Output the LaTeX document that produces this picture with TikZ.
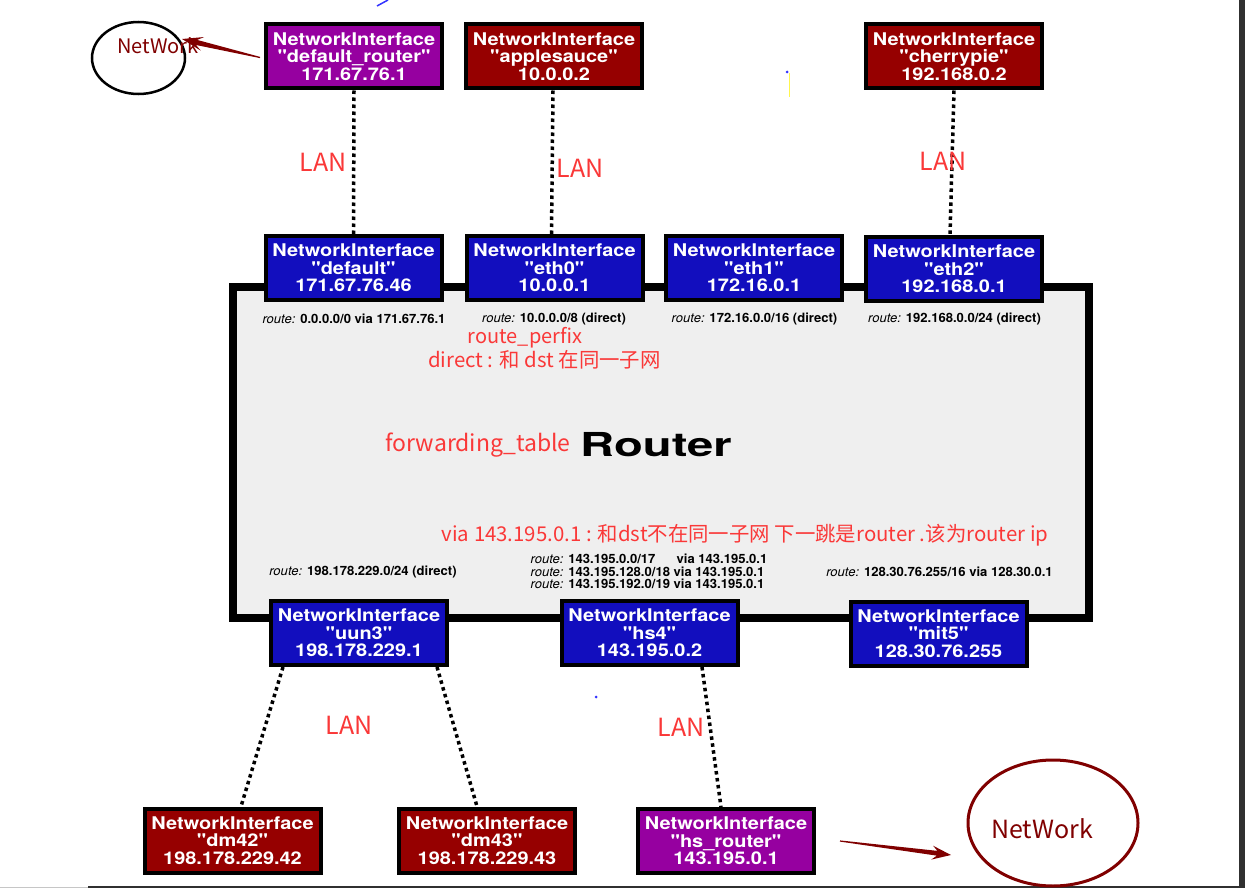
\documentclass[tikz,border=0pt]{standalone}
\usepackage{fontspec}
\usetikzlibrary{arrows.meta,shapes.geometric,calc}
\newfontfamily\boxfont[FakeStretch=1.14]{TeX Gyre Heros}
\newfontfamily\routefont[FakeStretch=1.02]{TeX Gyre Heros}
\newfontfamily\routerfont[FakeStretch=1.43]{TeX Gyre Heros}
\newfontfamily\cjk{Noto Sans CJK SC}
\definecolor{ifblue}{RGB}{18,14,190}
\definecolor{ifred}{RGB}{150,0,0}
\definecolor{ifpurple}{RGB}{150,0,160}
\definecolor{routerbg}{RGB}{239,239,239}
\definecolor{annot}{RGB}{250,56,56}
\definecolor{netred}{RGB}{128,0,0}
\definecolor{edgegray}{RGB}{48,48,48}
\begin{document}
\begin{tikzpicture}[x=1pt,y=-1pt,
  iface/.style={draw=black, line width=4pt, minimum width=176pt, minimum height=64pt,
    inner sep=0pt, align=center, text=white,
    font=\boxfont\bfseries\fontsize{17.5}{17.5}\selectfont},
  blueif/.style={iface, fill=ifblue},
  redif/.style={iface, fill=ifred},
  purpif/.style={iface, fill=ifpurple},
  routetxt/.style={inner sep=0pt, font=\routefont\fontsize{12.8}{11}\selectfont},
  annotxt/.style={inner sep=0pt, text=annot, font=\cjk\fontsize{20.4}{24}\selectfont},
  lantxt/.style={inner sep=0pt, text=annot, font=\cjk\fontsize{25}{28}\selectfont},
  conn/.style={line width=3.5pt, dash pattern=on 3.5pt off 3.5pt},
  nettxt/.style={inner sep=0pt, text=netred, font=\cjk\fontsize{20}{24}\selectfont}
]
\useasboundingbox (0,0) rectangle (1245,888);
\fill[white] (0,0) rectangle (1245,888);
% screenshot edges
\fill[edgegray] (1239,0) rectangle (1245,888);
\fill[edgegray] (88,885.5) rectangle (1239,888);
\fill[gray!45] (0,886.5) rectangle (88,888);
% stray marks
\draw[blue!80, line width=1.5pt] (377,6) -- (388,0);
\draw[yellow!70, line width=0.6pt] (789,73) -- (789,97);
\fill[blue!80] (787,72) circle (1.5pt);
\fill[blue!80] (596,697) circle (1.5pt);

% router
\node[draw=black, line width=8pt, fill=routerbg, minimum width=856pt, minimum height=331pt, inner sep=0pt] (router) at (661,452.5) {};
\node[inner sep=0pt, font=\routerfont\bfseries\fontsize{33}{36}\selectfont] (rlabel) at (656,445) {Router};

% interfaces
\node[purpif] (dr) at (354,56.5) {NetworkInterface\\"default\_router"\\171.67.76.1};
\node[redif] (apple) at (554,56.5) {NetworkInterface\\"applesauce"\\10.0.0.2};
\node[redif] (cherry) at (954,56.5) {NetworkInterface\\"cherrypie"\\192.168.0.2};

\node[blueif] (def) at (353.5,268) {NetworkInterface\\"default"\\171.67.76.46};
\node[blueif] (eth0) at (554.5,268) {NetworkInterface\\"eth0"\\10.0.0.1};
\node[blueif] (eth1) at (754,268) {NetworkInterface\\"eth1"\\172.16.0.1};
\node[blueif] (eth2) at (954,269) {NetworkInterface\\"eth2"\\192.168.0.1};

\node[blueif] (uun3) at (359,633) {NetworkInterface\\"uun3"\\198.178.229.1};
\node[blueif] (hs4) at (649.5,633) {NetworkInterface\\"hs4"\\143.195.0.2};
\node[blueif] (mit5) at (938.5,633.5) {NetworkInterface\\"mit5"\\128.30.76.255};

\node[redif] (dm42) at (232.5,840.5) {NetworkInterface\\"dm42"\\198.178.229.42};
\node[redif] (dm43) at (487,840.5) {NetworkInterface\\"dm43"\\198.178.229.43};
\node[purpif] (hsr) at (726,841) {NetworkInterface\\"hs\_router"\\143.195.0.1};

% routes
\node[routetxt] (r1) at (354,319) {{\itshape route:} \bfseries 0.0.0.0/0 via 171.67.76.1};
\node[routetxt] (r2) at (554,319) {{\itshape route:} \bfseries 10.0.0.0/8 (direct)};
\node[routetxt] (r3) at (754.5,319) {{\itshape route:} \bfseries 172.16.0.0/16 (direct)};
\node[routetxt] (r4) at (954.5,319) {{\itshape route:} \bfseries 192.168.0.0/24 (direct)};
\node[routetxt] (r5) at (363,572) {{\itshape route:} \bfseries 198.178.229.0/24 (direct)};
\node[routetxt] (r6) at (649,573) {\begin{tabular}{@{}l@{ }l@{ }l@{}}
\itshape route: & \bfseries 143.195.0.0/17 & \bfseries \hspace{3pt}via 143.195.0.1\\
\itshape route: & \bfseries 143.195.128.0/18 & \bfseries via 143.195.0.1\\
\itshape route: & \bfseries 143.195.192.0/19 & \bfseries via 143.195.0.1
\end{tabular}};
\node[routetxt] (r7) at (939.5,572) {{\itshape route:} \bfseries 128.30.76.255/16 via 128.30.0.1};

% annotations
\node[annotxt, font=\cjk\fontsize{20}{24}\selectfont] (a1) at (525,338) {route\_perfix};
\node[annotxt] (a2) at (544.5,360) {direct : 和 dst 在同一子网};
\node[annotxt, font=\cjk\fontsize{23}{26}\selectfont] (a3) at (478,445) {forwarding\_table};
\node[annotxt] (a4) at (745,535) {via 143.195.0.1 : 和dst不在同一子网 下一跳是router .该为router ip};

% connectors
\draw[conn] (dr.south) -- (def.north);
\draw[conn] ([xshift=-1pt]apple.south) -- ([xshift=-3pt]eth0.north);
\draw[conn] (cherry.south) -- ([xshift=-4pt]eth2.north);
\draw[conn] ([xshift=-76pt]uun3.south) -- ([xshift=8.5pt]dm42.north);
\draw[conn] ([xshift=78pt]uun3.south) -- ([xshift=-10pt]dm43.north);
\draw[conn] ([xshift=52.5pt]hs4.south) -- ([xshift=-5pt]hsr.north);

\node[lantxt] (lan1) at (323,162) {LAN};
\node[lantxt] (lan2) at (580,168) {LAN};
\node[lantxt] (lan3) at (943,161) {LAN};
\node[lantxt] (lan4) at (349,725) {LAN};
\node[lantxt] (lan5) at (681,727) {LAN};

% networks
\node[ellipse, draw=black, line width=2.5pt, minimum width=93pt, minimum height=72pt, inner sep=0pt] (net1) at (138.5,58) {};
\node[nettxt] (net1t) at (158,46) {NetWork};
\coordinate (s1) at ([xshift=-4pt,yshift=-1pt]dr.west);
\coordinate (tip1) at (182,39);
\coordinate (h1) at ($(tip1)!15pt!(s1)$);
\coordinate (b1) at ($(tip1)!21pt!(s1)$);
\fill[netred] ($(s1)!0.6pt!90:(tip1)$) -- ($(h1)!2.6pt!90:(tip1)$) -- ($(b1)!7pt!90:(tip1)$) -- (tip1)
  -- ($(b1)!7pt!-90:(tip1)$) -- ($(h1)!2.6pt!-90:(tip1)$) -- ($(s1)!0.6pt!-90:(tip1)$) -- cycle;

\node[ellipse, draw=netred, line width=3pt, minimum width=170pt, minimum height=126pt, inner sep=0pt] (net2) at (1053,823) {};
\node[nettxt, font=\cjk\fontsize{25}{28}\selectfont] (net2t) at (1042,829) {NetWork};
\coordinate (s2) at ([xshift=24pt]hsr.east);
\coordinate (tip2) at (951,855);
\coordinate (h2) at ($(tip2)!14pt!(s2)$);
\coordinate (b2) at ($(tip2)!19pt!(s2)$);
\fill[netred] ($(s2)!0.6pt!90:(tip2)$) -- ($(h2)!2.4pt!90:(tip2)$) -- ($(b2)!7pt!90:(tip2)$) -- (tip2)
  -- ($(b2)!7pt!-90:(tip2)$) -- ($(h2)!2.4pt!-90:(tip2)$) -- ($(s2)!0.6pt!-90:(tip2)$) -- cycle;
\end{tikzpicture}
\end{document}
